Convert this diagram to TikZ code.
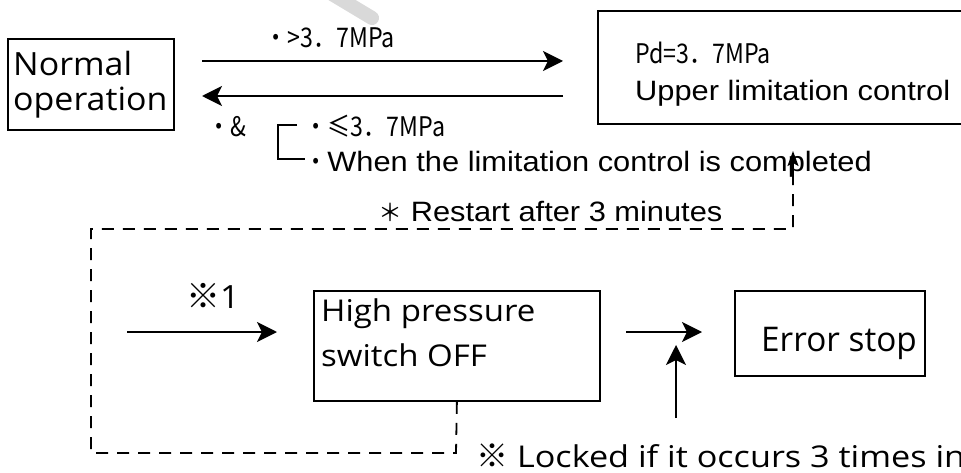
\documentclass[tikz,border=0pt]{standalone}
\usepackage{fontspec}
\usetikzlibrary{arrows.meta,calc}
\newfontfamily\fOS[FakeStretch=1.06]{Open Sans}
\newfontfamily\fOSb[FakeStretch=1.1]{Open Sans}
\newfontfamily\fOSl[FakeStretch=1.14]{Open Sans}
\newfontfamily\fOSc[FakeStretch=0.98]{Open Sans}
\newfontfamily\fAR[FakeStretch=1.1]{Liberation Sans}
\newfontfamily\fCJK[FakeStretch=0.86]{Noto Sans CJK SC}
\newfontfamily\fCJKw{Noto Sans CJK SC}
\begin{document}
\begin{tikzpicture}[x=1pt,y=-1pt,
  box/.style={draw, line width=1.8pt, inner sep=0pt, anchor=north west},
  arr/.style={-{Stealth[length=20pt,width=20pt,inset=5pt]}, line width=2pt},
  smallarr/.style={-{Stealth[length=15pt,width=11pt,inset=3pt]}, line width=1.8pt},
  dsh/.style={dash pattern=on 12pt off 9pt, line width=1.8pt},
  txt/.style={anchor=base west, inner sep=0pt},
  fnorm/.style={font=\fOS\fontsize{32}{36}\selectfont},
  fbot/.style={font=\fOSb\fontsize{30}{34}\selectfont},
  fcjk/.style={font=\fCJK\fontsize{27}{31}\selectfont},
  far/.style={font=\fAR\fontsize{28}{33}\selectfont}]
\useasboundingbox (0,0) rectangle (961,473);
\clip (0,0) rectangle (961,473);
\fill[white] (0,0) rectangle (961,473);
\draw[line width=14pt, line cap=round, gray!30] (322,-12) -- (372,18);
% boxes
\node[box, minimum width=166pt, minimum height=91pt] (normal) at (7,38) {};
\node[box, minimum width=400pt, minimum height=113pt] (upper) at (597,10) {};
\node[box, minimum width=286pt, minimum height=110pt] (hp) at (313,290) {};
\node[box, minimum width=190pt, minimum height=85pt] (err) at (734,290) {};
% texts
\node[txt, fnorm] (t1) at (13,76) {Normal};
\node[txt, fnorm] (t2) at (13,111) {operation};
\node[txt, fcjk] (pd) at (635,64) {Pd=3．7MPa};
\node[txt, far] (ulc) at (635,101) {Upper limitation control};
\node[txt, fcjk] (gt) at (264,48) {・>3．7MPa};
\node[txt, fcjk] (amp) at (207,137) {・\&};
\node[txt, fcjk] (le) at (304,137) {・≤3．7MPa};
\node[txt] (when) at (304,172) {{\fCJK\fontsize{27}{31}\selectfont ・}{\fAR\fontsize{28}{33}\selectfont When the limitation control is completed}};
\node[txt] (restart) at (378,222) {{\fCJKw\fontsize{24}{28}\selectfont ＊}{\fAR\fontsize{28}{33}\selectfont\ Restart after 3 minutes}};
\node[txt, fbot] (hp1) at (321,321) {High pressure};
\node[txt, fbot] (hp2) at (321,366) {switch OFF};
\node[txt, font=\fOSc\fontsize{34}{38}\selectfont] (es) at (761,351) {Error stop};
\node[txt] (x1) at (186,308) {{\fCJKw\fontsize{34}{38}\selectfont ※}{\fOS\fontsize{32}{36}\selectfont 1}};
\node[txt] (lock) at (476,467) {{\fCJKw\fontsize{32}{36}\selectfont ※}{\fOSl\fontsize{30}{34}\selectfont\ Locked if it occurs 3 times in}};
% bracket
\coordinate (b1) at (297,125);
\coordinate (b2) at (278,125);
\coordinate (b3) at (278,159);
\coordinate (b4) at (305,159);
\draw[line width=1.8pt] (b1) -- (b2) -- (b3) -- (b4);
% top arrows
\coordinate (ta1) at (202,61);
\coordinate (ta2) at (563,61);
\coordinate (tb1) at (563,96);
\coordinate (tb2) at (202,96);
\draw[arr] (ta1) -- (ta2);
\draw[arr] (tb1) -- (tb2);
% bottom arrows
\coordinate (s1a) at (127,332);
\coordinate (s1b) at (277,332);
\draw[arr] (s1a) -- (s1b);
\coordinate (s2a) at (626,332);
\coordinate (s2b) at (702,332);
\draw[arr] (s2a) -- (s2b);
\coordinate (s3a) at (676,418);
\coordinate (s3b) at (676,345);
\draw[arr] (s3a) -- (s3b);
% dashed feedback
\coordinate (d1) at (456,453);
\coordinate (d2) at (91,453);
\coordinate (d3) at (91,229);
\coordinate (d4) at (793,229);
\coordinate (d5) at (793,176);
\coordinate (d6) at (793,151);
\draw[dsh] (hp.south) -- (d1) -- (d2) -- (d3) -- (d4) -- (d5);
\draw[smallarr] (d5) -- (d6);
\end{tikzpicture}
\end{document}
